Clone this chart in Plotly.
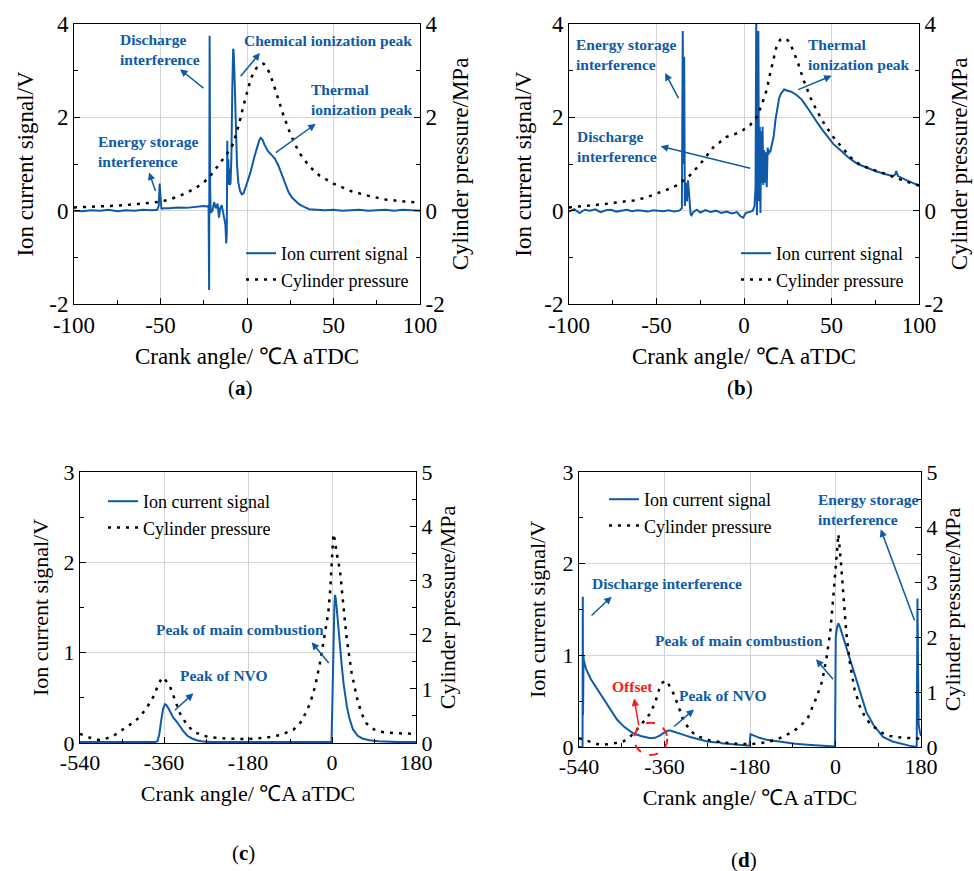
import plotly.graph_objects as go

# ---------------- data ----------------
# Panel (a): crank angle -100..100, ion current (V) and cylinder pressure (MPa)
A_ION_X = [
    -100, -95, -90, -85, -80, -75, -70, -65, -60, -55,
    -52, -51, -50.5, -50, -49.5, -49, -48, -45, -40, -35,
    -30, -25, -23, -22.2, -21.9, -21.6, -21.3, -21, -20, -19,
    -18, -17, -16.2, -15.5, -14.6, -13.5, -12.5, -12, -11.7, -11.4,
    -11.1, -10.8, -10.5, -10.2, -9.9, -9.5, -9, -8.5, -8, -7.8,
    -7.3, -6.8, -6.3, -5.8, -5, -4, -3, -2, -1, 0,
    2, 4, 6, 7, 8, 9, 10, 11, 12, 14,
    16, 18, 20, 22, 24, 26, 28, 30, 33, 36,
    40, 45, 50, 55, 60, 65, 70, 75, 80, 85,
    90, 95, 100]
A_ION_Y = [
    0.00, -0.01, 0.01, 0.00, 0.02, -0.01, 0.01, 0.00, 0.02, 0.01,
    0.02, 0.10, 0.58, 0.30, 0.05, 0.04, 0.05, 0.05, 0.07, 0.06,
    0.08, 0.10, 0.09, 0.10, -1.70, 3.75, 0.50, -0.05, 0.00, 0.18,
    0.05, 0.15, -0.15, 0.05, 0.12, -0.10, -0.30, -0.70, -0.50, 1.50,
    0.55, 1.10, 0.60, 0.90, 0.55, 0.60, 1.20, 2.60, 3.47, 3.45,
    3.00, 2.20, 1.50, 1.00, 0.60, 0.42, 0.35, 0.37, 0.48, 0.60,
    0.82, 1.12, 1.40, 1.50, 1.56, 1.52, 1.42, 1.35, 1.28, 1.20,
    1.12, 0.98, 0.78, 0.58, 0.40, 0.28, 0.20, 0.14, 0.08, 0.03,
    0.02, 0.01, 0.02, 0.00, 0.01, 0.02, 0.00, 0.01, 0.02, 0.00,
    0.02, 0.01, 0.00]
A_P_X = [-100, -90, -80, -70, -60, -50, -45, -40, -35, -30,
         -25, -20, -15, -10, -8, -5, -2, 0, 2, 4,
         6, 8, 9.5, 11, 13, 15, 18, 21, 25, 30,
         36, 42, 50, 60, 70, 80, 90, 100]
A_P_Y = [0.07, 0.08, 0.10, 0.12, 0.15, 0.19, 0.24, 0.30, 0.38, 0.48,
         0.60, 0.80, 1.05, 1.30, 1.43, 1.80, 2.25, 2.55, 2.80, 2.98,
         3.08, 3.13, 3.15, 3.10, 2.95, 2.75, 2.40, 2.05, 1.65, 1.25,
         0.95, 0.75, 0.58, 0.42, 0.32, 0.24, 0.20, 0.17]

# Panel (b)
B_ION_X = [
    -100, -97, -94, -91, -88, -85, -82, -79, -76, -73,
    -70, -67, -64, -61, -58, -55, -52, -49, -46, -43,
    -40, -37, -35.5, -35, -34.6, -34.2, -33.8, -33.2, -32.6, -32,
    -31.5, -31, -30.5, -30, -29, -27, -25, -22, -19, -16,
    -13, -10, -7, -4, -2, -0.5, 1, 3, 5, 6,
    6.6, 7, 7.4, 7.8, 8.2, 8.6, 9, 9.4, 9.8, 10.2,
    10.6, 11, 11.5, 12, 12.5, 13, 13.5, 14, 14.5, 15,
    16, 17, 18, 19, 20, 21, 22, 23, 24, 25,
    27, 30, 33, 36, 39, 42, 45, 48, 51, 55,
    60, 65, 70, 75, 80, 85, 86.5, 87, 88, 90,
    93, 96, 100]
B_ION_Y = [
    -0.02, 0.03, -0.05, 0.02, 0.00, 0.03, -0.03, 0.01, 0.02, -0.02,
    0.00, 0.02, -0.01, 0.01, 0.00, -0.02, 0.01, 0.00, -0.01, 0.01,
    -0.02, 0.00, 0.05, 3.85, 1.00, 3.30, 0.10, 0.60, 0.20, 0.65,
    0.35, 0.05, -0.08, -0.10, -0.03, 0.02, -0.04, 0.01, -0.03, 0.00,
    -0.05, -0.02, -0.06, -0.03, -0.12, -0.15, -0.05, -0.03, 0.00, 0.10,
    0.50, 4.20, -0.10, 2.50, 3.85, 0.20, 1.80, -0.05, 1.70, 0.60,
    1.80, 0.55, 1.30, 0.60, 1.25, 0.50, 1.35, 1.20, 1.30, 1.25,
    1.40, 1.60, 1.95, 2.20, 2.40, 2.50, 2.55, 2.60, 2.58, 2.57,
    2.55, 2.48, 2.38, 2.22, 2.04, 1.88, 1.72, 1.57, 1.43, 1.30,
    1.13, 1.00, 0.92, 0.85, 0.79, 0.74, 0.78, 0.85, 0.74, 0.70,
    0.65, 0.60, 0.54]
B_P_X = [-100, -90, -80, -70, -63, -56, -50, -44, -38.5, -32,
         -25, -17.5, -10, -2.3, 3.4, 7.2, 10, 12.9, 15, 16.7,
         18.5, 20.6, 22.5, 24.4, 26, 28, 31, 34, 38, 41.5,
         46, 51, 56, 60.6, 65, 70, 75, 80, 90, 100]
B_P_Y = [0.07, 0.10, 0.14, 0.19, 0.22, 0.28, 0.36, 0.45, 0.54, 0.71,
         1.00, 1.36, 1.58, 1.68, 1.83, 2.00, 2.25, 2.58, 2.95, 3.23,
         3.50, 3.66, 3.69, 3.68, 3.60, 3.44, 3.15, 2.80, 2.42, 2.15,
         1.85, 1.58, 1.35, 1.15, 1.02, 0.93, 0.86, 0.80, 0.66, 0.54]

# Panel (c): crank angle -540..180
C_ION_X = [-540, -500, -450, -400, -380, -374, -370, -366, -362, -358,
           -355, -350, -345, -340, -335, -330, -325, -320, -310, -300,
           -290, -280, -260, -240, -200, -150, -100, -50, -10, -5,
           -3, -1, 1, 3, 5, 6.5, 8, 10, 13, 17,
           21, 25, 28, 32, 37, 45, 55, 65, 80, 100,
           140, 180]
C_ION_Y = [0.01, 0.01, 0.01, 0.01, 0.01, 0.02, 0.10, 0.25, 0.38, 0.43,
           0.42, 0.38, 0.33, 0.28, 0.25, 0.22, 0.18, 0.14, 0.08, 0.05,
           0.03, 0.02, 0.01, 0.01, 0.01, 0.01, 0.01, 0.01, 0.01, 0.01,
           0.01, 0.01, 0.50, 1.10, 1.50, 1.64, 1.60, 1.50, 1.30, 1.07,
           0.85, 0.65, 0.52, 0.40, 0.28, 0.15, 0.08, 0.05, 0.03, 0.02,
           0.01, 0.01]
C_P_X = [-540, -520, -497, -470, -440, -425, -411, -397, -383, -372,
         -364, -356, -347, -337, -326, -312, -297, -275, -255, -220,
         -180, -140, -110, -83, -65, -47, -36, -26, -15, -8,
         -4, 0, 3, 6, 10, 17, 24, 31, 42, 53,
         63, 74, 90, 110, 140, 180]
C_P_Y = [0.17, 0.10, 0.05, 0.12, 0.30, 0.38, 0.49, 0.65, 0.85, 1.08,
         1.21, 1.15, 1.04, 0.80, 0.55, 0.35, 0.21, 0.13, 0.10, 0.08,
         0.07, 0.10, 0.15, 0.24, 0.40, 0.73, 1.05, 1.47, 2.00, 2.40,
         2.80, 3.40, 3.86, 3.75, 3.50, 3.19, 2.50, 1.96, 1.30, 0.85,
         0.55, 0.36, 0.25, 0.20, 0.18, 0.17]

# Panel (d)
D_ION_X = [-540, -535, -532.5, -532, -531.5, -531, -530.5, -530, -528, -525,
           -515, -505, -496, -485, -472, -460, -445, -426, -410, -400,
           -390, -380, -370, -360, -352, -348, -340, -330, -318, -306,
           -290, -270, -250, -245, -240, -230, -210, -195, -181, -179,
           -175, -170, -160, -145, -131, -110, -85, -60, -30, -10,
           -1, 0.5, 3, 6, 10, 16, 22, 30, 40, 50,
           65, 80, 100, 120, 140, 155, 165, 171, 172.5, 173.5,
           175, 177, 180]
D_ION_Y = [0.00, 0.00, 0.00, 1.64, 0.35, 1.40, 1.00, 0.95, 0.90, 0.85,
           0.74, 0.66, 0.59, 0.50, 0.40, 0.30, 0.22, 0.15, 0.12, 0.105,
           0.095, 0.10, 0.125, 0.16, 0.18, 0.18, 0.165, 0.15, 0.13, 0.11,
           0.085, 0.06, 0.05, 0.055, 0.04, 0.035, 0.025, 0.02, 0.015, 0.14,
           0.13, 0.12, 0.10, 0.08, 0.07, 0.05, 0.035, 0.025, 0.015, 0.01,
           0.005, 1.20, 1.30, 1.35, 1.30, 1.20, 1.10, 0.99, 0.80, 0.63,
           0.38, 0.24, 0.11, 0.06, 0.03, 0.015, 0.005, 0.00, 1.62, 0.35,
           0.25, 0.18, 0.12]
D_P_X = [-540, -520, -500, -489, -470, -447, -433, -418.6, -405, -390,
         -380, -369.5, -364, -359, -352, -341.5, -331, -320.5, -306, -292,
         -265, -236, -210, -180, -150, -125, -109.8, -92, -74.7, -57,
         -39.6, -28, -18.5, -11, -4.6, 0, 6, 11, 16.4, 23,
         30.5, 40, 51.6, 65, 79.6, 97, 114.7, 140, 163.8, 180]
D_P_Y = [0.16, 0.10, 0.05, 0.04, 0.06, 0.10, 0.18, 0.31, 0.45, 0.61,
         0.80, 1.10, 1.17, 1.21, 1.15, 0.98, 0.75, 0.49, 0.30, 0.20,
         0.12, 0.08, 0.06, 0.05, 0.08, 0.13, 0.19, 0.27, 0.37, 0.55,
         0.91, 1.20, 1.64, 2.10, 2.73, 3.30, 3.87, 3.40, 2.73, 2.05,
         1.52, 1.05, 0.73, 0.50, 0.37, 0.26, 0.20, 0.17, 0.16, 0.15]

# tick labels
AB_XTICKS = [-100, -50, 0, 50, 100]
AB_XTICKTEXT = ["-100", "-50", "0", "50", "100"]
AB_YTICKS = [-2, 0, 2, 4]
AB_YTICKTEXT = ["-2", "0", "2", "4"]
CD_XTICKS = [-540, -360, -180, 0, 180]
CD_XTICKTEXT = ["-540", "-360", "-180", "0", "180"]
CD_YLTICKS = [0, 1, 2, 3]
CD_YRTICKS = [0, 1, 2, 3, 4, 5]

SERIES_NAMES = ["Ion current signal", "Cylinder pressure"]
X_TITLE = "Crank angle/ \u2103A aTDC"
YL_TITLE = "Ion current signal/V"
YR_TITLE = "Cylinder pressure/MPa"

# ---------------- styling ----------------
FONT = "Liberation Serif, Times New Roman, serif"
BLUE = "#0f5aa8"
GRID = "#d4d4d4"
W, H = 974, 871


def px_dom(x0, x1, y0, y1):
    return [x0 / W, x1 / W], [1 - y1 / H, 1 - y0 / H]


panels = [
    dict(lab="a", ix=A_ION_X, iy=A_ION_Y, pxs=A_P_X, pys=A_P_Y,
         dom=px_dom(74, 420, 24, 304), xr=[-100, 100], ylr=[-2, 4], yrr=[-2, 4],
         xt=(AB_XTICKS, AB_XTICKTEXT), xm=[-75, -25, 25, 75],
         ylt=(AB_YTICKS, AB_YTICKTEXT), ylm=[-1, 1, 3],
         yrt=(AB_YTICKS, AB_YTICKTEXT), yrm=[-1, 1, 3],
         leg=(241, 235), fs=23, lso=9),
    dict(lab="b", ix=B_ION_X, iy=B_ION_Y, pxs=B_P_X, pys=B_P_Y,
         dom=px_dom(569, 919, 24, 304), xr=[-100, 100], ylr=[-2, 4], yrr=[-2, 4],
         xt=(AB_XTICKS, AB_XTICKTEXT), xm=[-75, -25, 25, 75],
         ylt=(AB_YTICKS, AB_YTICKTEXT), ylm=[-1, 1, 3],
         yrt=(AB_YTICKS, AB_YTICKTEXT), yrm=[-1, 1, 3],
         leg=(736, 235), fs=23, lso=6),
    dict(lab="c", ix=C_ION_X, iy=C_ION_Y, pxs=C_P_X, pys=C_P_Y,
         dom=px_dom(80, 416, 472, 743), xr=[-540, 180], ylr=[0, 3], yrr=[0, 5],
         xt=(CD_XTICKS, CD_XTICKTEXT), xm=[-450, -270, -90, 90],
         ylt=(CD_YLTICKS, [str(v) for v in CD_YLTICKS]), ylm=[0.5, 1.5, 2.5],
         yrt=(CD_YRTICKS, [str(v) for v in CD_YRTICKS]), yrm=[0.5, 1.5, 2.5, 3.5, 4.5],
         leg=(103, 483), fs=22, lso=8),
    dict(lab="d", ix=D_ION_X, iy=D_ION_Y, pxs=D_P_X, pys=D_P_Y,
         dom=px_dom(579, 921, 472, 747), xr=[-540, 180], ylr=[0, 3], yrr=[0, 5],
         xt=(CD_XTICKS, CD_XTICKTEXT), xm=[-450, -270, -90, 90],
         ylt=(CD_YLTICKS, [str(v) for v in CD_YLTICKS]), ylm=[0.5, 1.5, 2.5],
         yrt=(CD_YRTICKS, [str(v) for v in CD_YRTICKS]), yrm=[0.5, 1.5, 2.5, 3.5, 4.5],
         leg=(604, 481), fs=22, lso=10),
]

fig = go.Figure()
layout = dict(width=W, height=H, margin=dict(l=0, r=0, t=0, b=0),
              paper_bgcolor="white", plot_bgcolor="white",
              font=dict(family=FONT, color="black"), annotations=[], shapes=[])

for i, p in enumerate(panels, start=1):
    xn = "x" if i == 1 else f"x{i}"
    yl_i, yr_i = 2 * i - 1, 2 * i
    yln = "y" if yl_i == 1 else f"y{yl_i}"
    yrn = f"y{yr_i}"
    legname = "legend" if i == 1 else f"legend{i}"
    tickfont = dict(family=FONT, size=p["fs"], color="black")
    titlefont = dict(family=FONT, size=p["fs"], color="black")

    fig.add_trace(go.Scatter(x=p["ix"], y=p["iy"], mode="lines", name=SERIES_NAMES[0],
                             line=dict(color=BLUE, width=2), xaxis=xn, yaxis=yln,
                             legend=legname))
    fig.add_trace(go.Scatter(x=p["pxs"], y=p["pys"], mode="lines", name=SERIES_NAMES[1],
                             line=dict(color="black", width=2.5, dash="3px,6px"),
                             xaxis=xn, yaxis=yrn, legend=legname))

    xdom, ydom = p["dom"]
    common = dict(ticks="inside", ticklen=6, tickwidth=1, tickcolor="black",
                  showline=True, linecolor="black", linewidth=1, zeroline=False,
                  tickfont=tickfont, automargin=False, tickmode="array")
    layout[f"xaxis{'' if i == 1 else i}"] = dict(
        domain=xdom, range=p["xr"], anchor=yln, mirror=True,
        tickvals=p["xt"][0], ticktext=p["xt"][1], showgrid=True, gridcolor=GRID,
        title=dict(text=X_TITLE, font=titlefont, standoff=11),
        minor=dict(tickmode="array", tickvals=p["xm"], ticks="inside", ticklen=4,
                   tickcolor="black", showgrid=False),
        **common)
    layout[f"yaxis{'' if yl_i == 1 else yl_i}"] = dict(
        domain=ydom, range=p["ylr"], anchor=xn, side="left",
        tickvals=p["ylt"][0], ticktext=p["ylt"][1], showgrid=True, gridcolor=GRID,
        title=dict(text=YL_TITLE, font=titlefont, standoff=p["lso"]),
        minor=dict(tickmode="array", tickvals=p["ylm"], ticks="inside", ticklen=4,
                   tickcolor="black", showgrid=False),
        **common)
    layout[f"yaxis{yr_i}"] = dict(
        domain=ydom, range=p["yrr"], anchor=xn, side="right", overlaying=yln,
        tickvals=p["yrt"][0], ticktext=p["yrt"][1], showgrid=False,
        title=dict(text=YR_TITLE, font=titlefont, standoff=8),
        minor=dict(tickmode="array", tickvals=p["yrm"], ticks="inside", ticklen=4,
                   tickcolor="black", showgrid=False),
        **common)
    layout[legname] = dict(x=p["leg"][0] / W, y=1 - p["leg"][1] / H, xanchor="left",
                           yanchor="top", bgcolor="rgba(0,0,0,0)", borderwidth=0,
                           font=dict(family=FONT, size=18, color="black"),
                           tracegroupgap=0, itemwidth=30)

# ---------------- annotations ----------------
def arrow(xn, yn, tail, head, color=BLUE):
    return dict(x=head[0], y=head[1], ax=tail[0], ay=tail[1], xref=xn, yref=yn,
                axref=xn, ayref=yn, text="", showarrow=True, arrowhead=2,
                arrowsize=1, arrowwidth=1.5, arrowcolor=color, standoff=0,
                startstandoff=0)


def label(xn, yn, x, y, text, anchor="left", color=BLUE):
    return dict(x=x, y=y, xref=xn, yref=yn, text=f"<b>{text}</b>", showarrow=False,
                xanchor=anchor, yanchor="middle", align="left",
                font=dict(family=FONT, size=15.5, color=color))


ann = layout["annotations"]
# (a)
ann += [
    label("x", "y", -87.5, 1.26, "Energy storage<br>interference"),
    arrow("x", "y", (-52.6, 0.39), (-56.6, 0.82)),
    label("x", "y", -74.8, 3.445, "Discharge<br>interference"),
    arrow("x", "y", (-24.3, 2.6), (-38.7, 3.03)),
    label("x", "y", -2.7, 3.64, "Chemical ionization peak"),
    arrow("x", "y", (-4.4, 2.85), (7.5, 3.38)),
    label("x", "y", 35.8, 2.39, "Thermal<br>ionization peak"),
    arrow("x", "y", (15.8, 1.22), (39.7, 1.86)),
]
# (b)
ann += [
    label("x2", "y3", -97, 3.355, "Energy storage<br>interference"),
    arrow("x2", "y3", (-37, 2.38), (-45.1, 2.95)),
    label("x2", "y3", -96.3, 1.375, "Discharge<br>interference"),
    arrow("x2", "y3", (4.4, 0.9), (-47.6, 1.38)),
    label("x2", "y3", 35.2, 3.355, "Thermal<br>ionization peak"),
    arrow("x2", "y3", (30.1, 2.58), (50.1, 2.89)),
]
# (c)
ann += [
    label("x3", "y5", -198.2, 1.26, "Peak of main combustion", anchor="center"),
    arrow("x3", "y5", (-4.3, 0.87), (-43.6, 1.115)),
    label("x3", "y5", -231.8, 0.742, "Peak of NVO", anchor="center"),
    arrow("x3", "y5", (-340, 0.347), (-297, 0.55)),
]
# (d)
ann += [
    label("x4", "y7", -354.7, 1.786, "Discharge interference", anchor="center"),
    arrow("x4", "y7", (-516.8, 1.42), (-471.2, 1.64)),
    label("x4", "y7", -203.6, 1.167, "Peak of main combustion", anchor="center"),
    arrow("x4", "y7", (-2.5, 0.723), (-41, 0.957)),
    label("x4", "y7", -236.2, 0.567, "Peak of NVO", anchor="center"),
    arrow("x4", "y7", (-342.8, 0.21), (-297.9, 0.41)),
    label("x4", "y7", -42, 2.59, "Energy storage<br>interference"),
    arrow("x4", "y7", (167.4, 1.367), (95.2, 2.375)),
    label("x4", "y7", -427.4, 0.66, "Offset", anchor="center", color="#ff1a1a"),
    arrow("x4", "y7", (-413.7, 0.22), (-424, 0.53), color="#ff1a1a"),
]
# panel letters
for lab, (cx, cy) in zip("abcd", [(240, 388), (740, 388), (243, 853), (744, 860)]):
    ann.append(dict(x=cx / W, y=1 - cy / H, xref="paper", yref="paper",
                    text=f"(<b>{lab}</b>)", showarrow=False, xanchor="center",
                    yanchor="middle", font=dict(family=FONT, size=21, color="black")))

# dashed red "offset" circle in (d), expressed in x4 data / y7 domain units
layout["shapes"].append(dict(type="circle", xref="x4", yref="y7 domain",
                             x0=-424, x1=-354, y0=-0.087 / 3, y1=0.265 / 3,
                             line=dict(color="#ff1a1a", width=2, dash="dash"),
                             layer="above"))

fig.update_layout(**layout)
fig.write_html("out.html")
